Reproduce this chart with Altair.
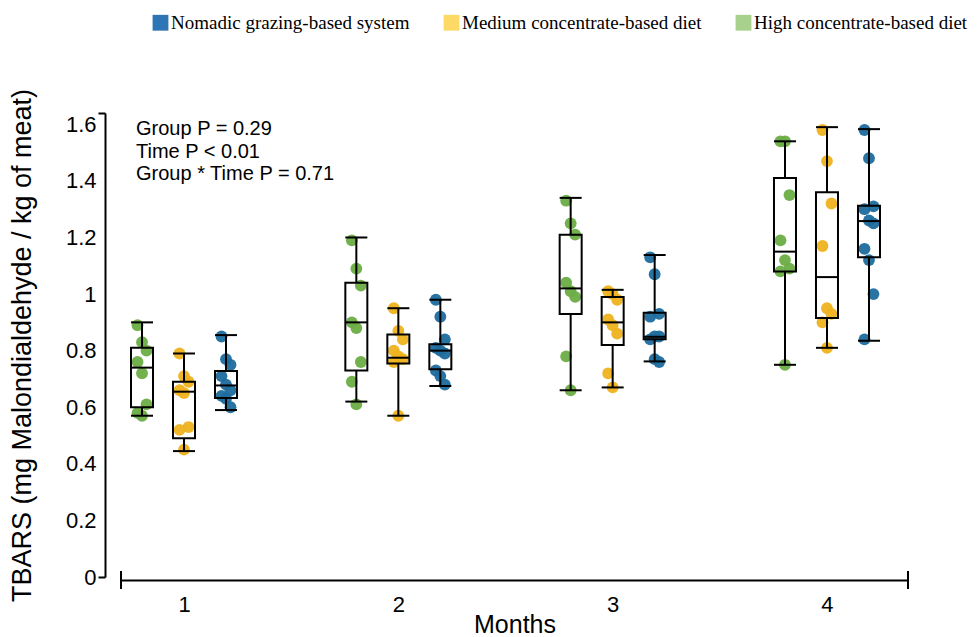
import altair as alt
import pandas as pd

# ---------------- data ----------------
months = [1, 2, 3, 4]
groups = ["Nomadic grazing-based system", "Medium concentrate-based diet", "High concentrate-based diet"]

# individual observations (TBARS, mg MDA / kg meat), per month
high_pts = [
    [0.89, 0.83, 0.80, 0.76, 0.72, 0.61, 0.58, 0.57],
    [1.19, 1.09, 1.03, 0.90, 0.88, 0.76, 0.69, 0.61],
    [1.33, 1.25, 1.21, 1.04, 1.01, 0.99, 0.78, 0.66],
    [1.54, 1.54, 1.35, 1.19, 1.12, 1.09, 1.08, 0.75],
]
medium_pts = [
    [0.79, 0.71, 0.69, 0.66, 0.65, 0.53, 0.52, 0.45],
    [0.95, 0.87, 0.84, 0.80, 0.78, 0.77, 0.76, 0.57],
    [1.01, 1.00, 0.98, 0.91, 0.89, 0.86, 0.72, 0.67],
    [1.58, 1.47, 1.32, 1.17, 0.95, 0.93, 0.90, 0.81],
]
nomadic_pts = [
    [0.85, 0.77, 0.75, 0.71, 0.68, 0.66, 0.64, 0.63, 0.60],
    [0.98, 0.92, 0.84, 0.81, 0.80, 0.79, 0.73, 0.71, 0.68],
    [1.13, 1.07, 0.93, 0.92, 0.85, 0.85, 0.84, 0.77, 0.76],
    [1.58, 1.48, 1.31, 1.30, 1.26, 1.25, 1.16, 1.12, 1.00, 0.84],
]

# box statistics per month: (min, q1, median, q3, max)
high_box = [
    (0.57, 0.60, 0.74, 0.81, 0.90),
    (0.62, 0.73, 0.90, 1.04, 1.20),
    (0.66, 0.93, 1.02, 1.21, 1.34),
    (0.75, 1.08, 1.15, 1.41, 1.54),
]
medium_box = [
    (0.445, 0.49, 0.655, 0.69, 0.79),
    (0.57, 0.755, 0.775, 0.857, 0.95),
    (0.67, 0.82, 0.90, 0.99, 1.015),
    (0.81, 0.915, 1.06, 1.36, 1.59),
]
nomadic_box = [
    (0.59, 0.633, 0.677, 0.728, 0.855),
    (0.675, 0.734, 0.80, 0.823, 0.98),
    (0.762, 0.84, 0.849, 0.934, 1.138),
    (0.835, 1.13, 1.258, 1.312, 1.583),
]

p_text = ["Group P = 0.29", "Time P < 0.01", "Group * Time P = 0.71"]
y_ticks = [0, 0.2, 0.4, 0.6, 0.8, 1.0, 1.2, 1.4, 1.6]
y_top = 1.64

point_colors = ["#1D6C9E", "#EFB21E", "#6BAD46"]
legend_colors = ["#2E75B6", "#FFD966", "#A9D18E"]

# ---------------- layout ----------------
W, H = 787, 464
x_domain = [0.706, 4.378]
ppm = W / (x_domain[1] - x_domain[0])  # pixels per month
group_shift = {groups[2]: -42 / ppm, groups[1]: 0.0, groups[0]: 42 / ppm}
half_box = 11 / ppm
jitter = 4.5 / ppm

pts_by_group = {groups[0]: nomadic_pts, groups[1]: medium_pts, groups[2]: high_pts}
box_by_group = {groups[0]: nomadic_box, groups[1]: medium_box, groups[2]: high_box}

rows = []
for g in groups:
    for m, vals in zip(months, pts_by_group[g]):
        for i, v in enumerate(vals):
            rows.append({"group": g, "month": m, "value": v,
                         "pos": m + group_shift[g] + ((i % 3) - 1) * jitter})
pts_df = pd.DataFrame(rows)

brows = []
for g in groups:
    for m, (mn, q1, md, q3, mx) in zip(months, box_by_group[g]):
        c = m + group_shift[g]
        brows.append({"group": g, "month": m, "pos": c, "xl": c - half_box, "xr": c + half_box,
                      "min": mn, "q1": q1, "med": md, "q3": q3, "max": mx})
box_df = pd.DataFrame(brows)

FONT = "Liberation Sans, Arial, sans-serif"

xscale = alt.Scale(domain=x_domain, nice=False, zero=False)
yscale = alt.Scale(domain=[0, y_top], nice=False, zero=True)

xaxis = alt.Axis(values=months, format="d", title="Months", ticks=False, grid=False,
                 domainColor="black", domainWidth=2, offset=3,
                 labelFont=FONT, labelFontSize=22, labelColor="black", labelPadding=14,
                 labelFlush=False,
                 titleFont=FONT, titleFontSize=25, titleFontWeight="normal", titleColor="black",
                 titlePadding=-3)
yaxis = alt.Axis(values=y_ticks + [y_top], title="TBARS (mg Malondialdehyde / kg of meat)", grid=False,
                 labelExpr="datum.value > 1.62 ? '' : format(datum.value, '~g')",
                 tickColor="black", tickWidth=2, tickSize=7,
                 tickOpacity={"condition": {"test": "datum.value === 0 || datum.value > 1.62", "value": 1}, "value": 0},
                 domainColor="black", domainWidth=2, offset=16,
                 labelFont=FONT, labelFontSize=22, labelColor="black", labelPadding=2,
                 titleFont=FONT, titleFontSize=27, titleFontWeight="normal", titleColor="black",
                 titlePadding=29)


def X(f):
    return alt.X(f"{f}:Q", scale=xscale, axis=xaxis)


def Y(f):
    return alt.Y(f"{f}:Q", scale=yscale, axis=yaxis)


legend_layer = alt.Chart(pts_df).mark_square(opacity=0).encode(
    x=X("pos"), y=Y("value"),
    color=alt.Color("group:N", scale=alt.Scale(domain=groups, range=legend_colors),
                    legend=alt.Legend(orient="none", legendX=30, legendY=-100, direction="horizontal",
                                      title=None, symbolType="square", symbolSize=250,
                                      symbolOpacity=1, symbolStrokeWidth=0,
                                      labelFont="Liberation Serif, Times New Roman, serif",
                                      labelFontSize=19, labelColor="black", labelLimit=400,
                                      columnPadding=32, labelOffset=1, padding=0)),
)

points = alt.Chart(pts_df).mark_circle(size=140, opacity=0.95).encode(
    x=X("pos"), y=Y("value"),
    fill=alt.Fill("group:N", scale=alt.Scale(domain=groups, range=point_colors), legend=None),
)

base = alt.Chart(box_df)
whisk_lo = base.mark_rule(color="black", strokeWidth=2).encode(x=X("pos"), y=Y("min"), y2="q1")
whisk_hi = base.mark_rule(color="black", strokeWidth=2).encode(x=X("pos"), y=Y("q3"), y2="max")
boxes = base.mark_rect(filled=False, stroke="black", strokeWidth=2).encode(
    x=X("xl"), x2="xr", y=Y("q1"), y2="q3")
medians = base.mark_rule(color="black", strokeWidth=2).encode(x=X("xl"), x2="xr", y=Y("med"))
cap_lo = base.mark_rule(color="black", strokeWidth=2).encode(x=X("xl"), x2="xr", y=Y("min"))
cap_hi = base.mark_rule(color="black", strokeWidth=2).encode(x=X("xl"), x2="xr", y=Y("max"))

one = pd.DataFrame({"k": [0]})
ptext = alt.Chart(one).mark_text(align="left", baseline="top", font=FONT, fontSize=20,
                                 lineHeight=22.5, color="black").encode(
    x=alt.value(15), y=alt.value(6), text=alt.value(p_text))

axis_cap_l = alt.Chart(one).mark_rule(color="black", strokeWidth=2).encode(
    x=alt.value(0), y=alt.value(H + 3 - 9), y2=alt.value(H + 3 + 9))
axis_cap_r = alt.Chart(one).mark_rule(color="black", strokeWidth=2).encode(
    x=alt.value(W), y=alt.value(H + 3 - 9), y2=alt.value(H + 3 + 9))

chart = alt.layer(
    legend_layer, points, whisk_lo, whisk_hi, boxes, medians, cap_lo, cap_hi,
    ptext, axis_cap_l, axis_cap_r,
).properties(
    width=W, height=H,
    autosize=alt.AutoSizeParams(type="none"),
    padding={"left": 113, "top": 105, "right": 61, "bottom": 60},
    background="white",
).configure_view(stroke=None)

chart.save("out.html", embed_options={"renderer": "svg", "actions": False})
